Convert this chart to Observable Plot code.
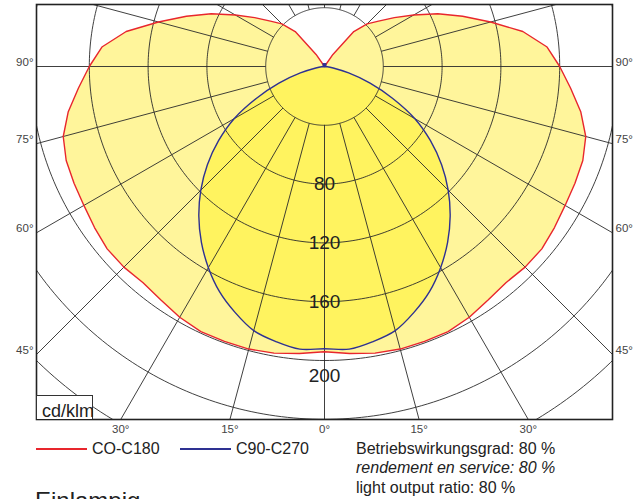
<!DOCTYPE html>
<html><head><meta charset="utf-8">
<script src="https://cdn.jsdelivr.net/npm/d3@7"></script>
<script src="https://cdn.jsdelivr.net/npm/@observablehq/plot@0.6"></script>
<style>
body{margin:0;background:#fff;font-family:"Liberation Sans",Arial,Helvetica,sans-serif;color:#222;}
#wrap{position:relative;width:644px;height:499px;overflow:hidden;background:#fff;}
#chart{position:absolute;left:0;top:0;}
.abs{position:absolute;white-space:nowrap;line-height:1;}
.unit{position:absolute;left:36px;top:395px;width:57px;height:24px;border:1px solid #333;border-bottom:none;background:#fff;box-sizing:border-box;}
.swatch{position:absolute;height:2px;width:51px;}
</style></head><body>
<div id="wrap">
<div id="chart"></div>
<div class="unit"></div>
<div class="abs" style="left:42px;top:401.5px;font-size:18px;">cd/klm</div>
<div class="swatch" style="left:36px;top:448px;background:#e8262d;"></div>
<div class="abs" id="lg1" style="left:92px;top:441px;font-size:16px;"></div>
<div class="swatch" style="left:180px;top:448px;background:#2e3192;"></div>
<div class="abs" id="lg2" style="left:236px;top:441px;font-size:16px;"></div>
<div class="abs" style="left:356px;top:440.5px;font-size:16px;">Betriebswirkungsgrad: 80 %</div>
<div class="abs" style="left:356px;top:459.8px;font-size:16px;font-style:italic;">rendement en service: 80 %</div>
<div class="abs" style="left:356px;top:479.8px;font-size:16px;">light output ratio: 80 %</div>
<div class="abs" style="left:35px;top:489px;font-size:24px;">Einlampig</div>
</div>
<script>
// ---- data ----
const angles = [0,5,10,15,20,25,30,35,40,45,50,55,60,65,70,75,80,85,90,95,100,105,110,115,120,125,130,135,140,145,150,155,160,165,170,175,180];
const c0c180 = [194,196,198,199,199,199,197,194,192,193,193,191,189,188,187,184,177,168,160,152,137,117,100,85,70,58,48,41,31,10,0,0,0,0,0,0,0];
const c90c270 = [192,193,190,186,178,169,158,146,133,119,104,88,71,51,33,17,6,2,0,0,0,0,0,0,0,0,0,0,0,0,0,0,0,0,0,0,0];
const seriesNames = ["CO-C180", "C90-C270"];
const ringValues = [40,80,120,160,200,240,280];
const ringLabels = [80,120,160];
const ringLabelLow = [200];
const spokeAngles = [0,15,30,45,60,75,90,105,120,135,150,165,180,195,210,225,240,255,270,285,300,315,330,345];
const sideTicks = [45,60,75,90];
const bottomTicks = [-30,-15,0,15,30];

document.getElementById("lg1").textContent = seriesNames[0];
document.getElementById("lg2").textContent = seriesNames[1];

// ---- layout ----
const W = 644, H = 440, mL = 36, mR = 32, mT = 4, mB = 21;
const k = 1.47;              // px per cd/klm
const cy = 66;               // centre row in px
const XM = (W - mL - mR) / 2 / k;
const YT = (cy - mT) / k;
const YB = (H - mB - cy) / k;

const rad = d => d * Math.PI / 180;
const pt = (a, v) => ({x: v * Math.sin(rad(a)), y: -v * Math.cos(rad(a))});

function closedCurve(vals) {
  const pts = [];
  let last = vals.length - 1;
  while (last > 0 && vals[last - 1] === 0) last--;
  for (let i = last; i >= 0; i--) pts.push(pt(-angles[i], vals[i]));
  for (let i = 1; i <= last; i++) pts.push(pt(angles[i], vals[i]));
  return pts;
}
const redPts = closedCurve(c0c180);
const bluePts = closedCurve(c90c270);
const lightCentre = [pt(angles[c90c270.indexOf(0)], 0)];

const ringPts = ringValues.flatMap(r => d3.range(0, 361, 1).map(a => ({...pt(a, r), r})));
const spokes = spokeAngles.map(a => {
  const p1 = pt(a, ringValues[0]), p2 = pt(a, 330);
  return {x1: p1.x, y1: p1.y, x2: p2.x, y2: p2.y};
});
const sideLabels = sideTicks.flatMap(t => {
  const y = -XM * Math.cos(rad(t)) / Math.sin(rad(t));
  return [{x: -XM, y, side: "l", t}, {x: XM, y, side: "r", t}];
});
const bottomLabels = bottomTicks.map(t => ({x: YB * Math.tan(rad(t)), y: -YB, t: Math.abs(t)}));

const gridColor = "#2a2a2a";
const font = "'Liberation Sans', Arial, Helvetica, sans-serif";

const chart = Plot.plot({
  width: W, height: H,
  marginLeft: mL, marginRight: mR, marginTop: mT, marginBottom: mB,
  x: {domain: [-XM, XM], axis: null},
  y: {domain: [-YB, YT], axis: null},
  style: {fontFamily: font, background: "transparent", overflow: "visible"},
  marks: [
    Plot.line(redPts, {x: "x", y: "y", fill: "#fff59b", stroke: "none", curve: "linear-closed"}),
    Plot.line(bluePts, {x: "x", y: "y", fill: "#fff35f", stroke: "none", curve: "catmull-rom-closed"}),
    Plot.line(ringPts, {x: "x", y: "y", z: "r", stroke: gridColor, strokeWidth: 0.9, clip: true}),
    Plot.link(spokes, {x1: "x1", y1: "y1", x2: "x2", y2: "y2", stroke: gridColor, strokeWidth: 0.9, clip: true}),
    Plot.line(redPts, {x: "x", y: "y", stroke: "#e8262d", strokeWidth: 1.4, curve: "linear-closed"}),
    Plot.line(bluePts, {x: "x", y: "y", stroke: "#2e3192", strokeWidth: 1.4, curve: "catmull-rom-closed"}),
    Plot.dot(lightCentre, {x: "x", y: "y", symbol: "square", r: 2.2, fill: "#2e3192", dy: -1.5}),
    Plot.text(ringLabels, {x: 0, y: d => -d, text: d => String(d), fontSize: 19, fill: "#222"}),
    Plot.text(ringLabelLow, {x: 0, y: d => -d, text: d => String(d), fontSize: 19, fill: "#222", dy: 15}),
    Plot.text(sideLabels.filter(d => d.side === "l"), {x: "x", y: "y", text: d => d.t + "°", textAnchor: "end", dx: -3, dy: -4, fontSize: 11.5, fill: "#444"}),
    Plot.text(sideLabels.filter(d => d.side === "r"), {x: "x", y: "y", text: d => d.t + "°", textAnchor: "start", dx: 3, dy: -4, fontSize: 11.5, fill: "#444"}),
    Plot.text(bottomLabels, {x: "x", y: "y", text: d => d.t + "°", dy: 10, fontSize: 11.5, fill: "#444"}),
    Plot.frame({stroke: "#222", strokeWidth: 1.6})
  ]
});
document.getElementById("chart").appendChild(chart);
</script>
</body></html>
